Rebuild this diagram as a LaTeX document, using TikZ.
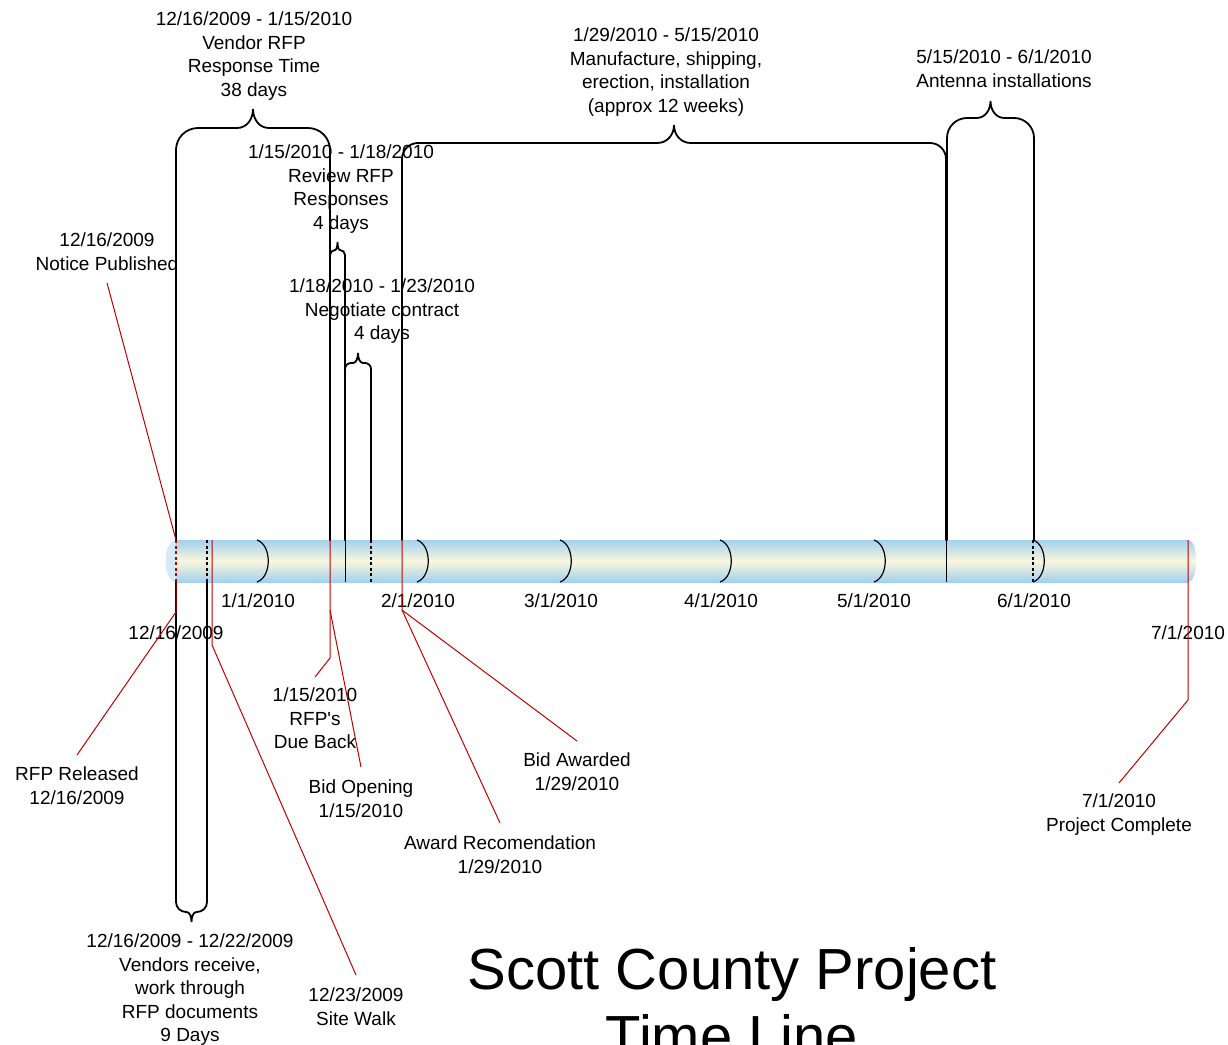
\documentclass[tikz,border=0pt]{standalone}
\usepackage{fontspec}
\setmainfont{Liberation Sans}
\usetikzlibrary{calc}

\definecolor{barblue}{HTML}{A3D0EF}
\definecolor{barcream}{HTML}{F9F7DC}
\definecolor{capblue}{HTML}{D5E9F7}
\definecolor{leadred}{HTML}{C00000}

% brace standing on the time line: left x, right x, top y, tip y, foot y, corner radius, curl width
\newcommand{\spanup}[7]{%
    \draw[bracket,rounded corners=#6] (#1,#5) |- ({(#1+#2)/2-#7},#3);
    \draw[bracket] ({(#1+#2)/2-#7},#3) .. controls ({(#1+#2)/2-0.35*#7},#3) and ({(#1+#2)/2},{(#3+#4)/2}) .. ({(#1+#2)/2},#4)
        .. controls ({(#1+#2)/2},{(#3+#4)/2}) and ({(#1+#2)/2+0.35*#7},#3) .. ({(#1+#2)/2+#7},#3);
    \draw[bracket,rounded corners=#6] ({(#1+#2)/2+#7},#3) -| (#2,#5);
}

\begin{document}
\begin{tikzpicture}[x=1pt,y=-1pt,
    lbl/.style={font=\fontsize{19}{23.5}\selectfont,align=center,inner sep=0pt,anchor=north},
    headline/.style={font=\fontsize{58}{67}\selectfont,align=center,inner sep=0pt,anchor=north},
    bracket/.style={line width=1.8pt,line cap=round},
    leader/.style={leadred,line width=1pt},
    monthtick/.style={line width=1.2pt}]

    \useasboundingbox (0,0) rectangle (1228,1044);

    % time line bar
    \fill[capblue] (176,561) ellipse [x radius=10.5, y radius=21];
    \shade[top color=barblue,bottom color=barblue,middle color=barcream] (176,540) rectangle (1189,582);
    \shade[top color=barblue,bottom color=barblue,middle color=barcream]
        (1188,540) .. controls (1199,540) and (1199,582) .. (1188,582) -- cycle;

    % month ticks
    \foreach \m in {257,417,560,720,874,1033}
        \draw[monthtick] (\m,540) .. controls (\m+15,545) and (\m+15,577) .. (\m,582);

    % marks across the bar
    \foreach \x in {207,371,1033}
        \draw[line width=1.2pt,dash pattern=on 3pt off 2.5pt] (\x,540) -- (\x,582);
    \foreach \x in {345,946}
        \draw[line width=1pt] (\x,540) -- (\x,582);
    \draw[leader,line width=1.2pt,dash pattern=on 3pt off 2.5pt] (176,540) -- (176,582);

    % braces
    \spanup{176}{330}{128}{109}{540}{22}{16}
    \spanup{330}{345}{250}{242}{540}{5}{2.5}
    \spanup{345}{371}{363}{353}{540}{6}{5}
    \spanup{402}{946}{143}{125}{540}{16}{17}
    \spanup{947}{1034}{118}{101}{540}{20}{14}
    \spanup{176}{207}{912}{922}{582}{10}{5}

    % dates along the bar
    \node[lbl] (dec) at (176,626) {12/16/2009};
    \node[lbl] (jan) at (258,594) {1/1/2010};
    \node[lbl] (feb) at (418,594) {2/1/2010};
    \node[lbl] (mar) at (561,594) {3/1/2010};
    \node[lbl] (apr) at (721,594) {4/1/2010};
    \node[lbl] (may) at (874,594) {5/1/2010};
    \node[lbl] (jun) at (1034,594) {6/1/2010};
    \node[lbl] (jul) at (1188,626) {7/1/2010};

    % spans
    \node[lbl] (vendorRFP) at (254,12) {12/16/2009 - 1/15/2010\\Vendor RFP\\Response Time\\38 days};
    \node[lbl] (review) at (341,145) {1/15/2010 - 1/18/2010\\Review RFP\\Responses\\4 days};
    \node[lbl] (negotiate) at (382,279) {1/18/2010 - 1/23/2010\\Negotiate contract\\4 days};
    \node[lbl] (manufacture) at (666,28) {1/29/2010 - 5/15/2010\\Manufacture, shipping,\\erection, installation\\(approx 12 weeks)};
    \node[lbl] (antenna) at (1004,50) {5/15/2010 - 6/1/2010\\Antenna installations};
    \node[lbl] (vendors) at (190,934) {12/16/2009 - 12/22/2009\\Vendors receive,\\work through\\RFP documents\\9 Days};

    % events
    \node[lbl] (notice) at (107,233) {12/16/2009\\Notice Published};
    \node[lbl] (released) at (77,767) {RFP Released\\12/16/2009};
    \node[lbl] (sitewalk) at (356,988) {12/23/2009\\Site Walk};
    \node[lbl] (dueback) at (315,688) {1/15/2010\\RFP\textquotesingle s\\Due Back};
    \node[lbl] (bidopen) at (361,780) {Bid Opening\\1/15/2010};
    \node[lbl] (awardrec) at (500,836) {Award Recomendation\\1/29/2010};
    \node[lbl] (awarded) at (577,753) {Bid Awarded\\1/29/2010};
    \node[lbl] (complete) at (1119,794) {7/1/2010\\Project Complete};

    % points on the time line
    \coordinate (tNotice) at (176,540);
    \coordinate (tReleased) at (176,582);
    \coordinate (tWalk) at (212,540);
    \coordinate (tDue) at (330,540);
    \coordinate (tAward) at (402,540);
    \coordinate (tDone) at (1188,540);

    % leaders
    \draw[leader] ([yshift=-12pt]notice.south) -- (tNotice);
    \draw[leader] (tReleased) -- ++(0,30) -- ([yshift=12pt]released.north);
    \draw[leader] (tWalk) -- ++(0,105) -- ([yshift=13pt]sitewalk.north);
    \draw[leader] (tDue) -- ++(0,118) -- ([yshift=11pt]dueback.north);
    \draw[leader] ($(tDue)+(0,70)$) -- ([yshift=13pt]bidopen.north);
    \draw[leader] (tAward) -- ++(0,70) coordinate (kAward) -- ([yshift=13pt]awardrec.north);
    \draw[leader] (kAward) -- ([yshift=12pt]awarded.north);
    \draw[leader] (tDone) -- ++(0,160) -- ([yshift=11pt]complete.north);

    % title
    \node[headline] (title) at (732,947) {Scott County Project\\Time Line};

\end{tikzpicture}
\end{document}
